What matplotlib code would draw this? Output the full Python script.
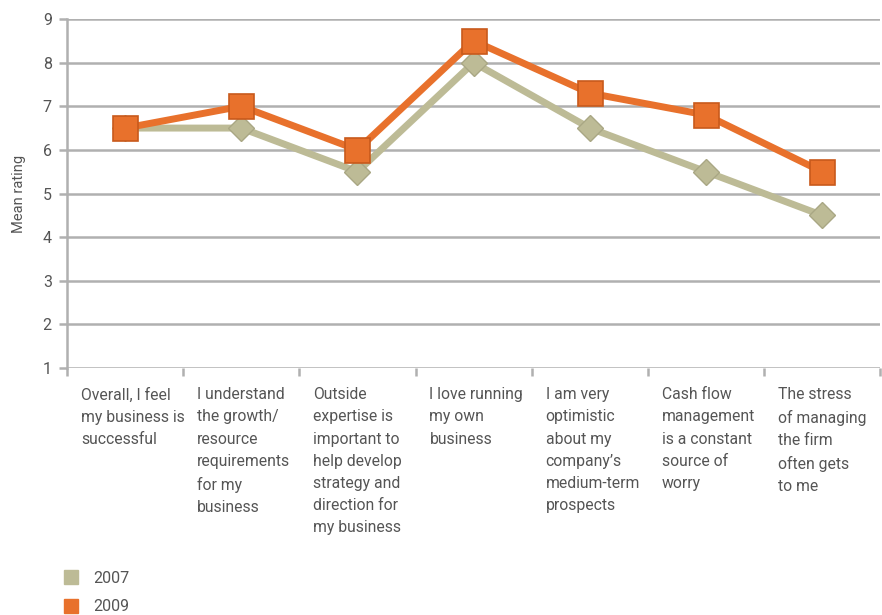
import numpy as np
import matplotlib; matplotlib.use("Agg"); import matplotlib.pyplot as plt
from matplotlib.lines import Line2D

statements = ["Overall, I feel\nmy business is\nsuccessful",
              "I understand\nthe growth/\nresource\nrequirements\nfor my\nbusiness",
              "Outside\nexpertise is\nimportant to\nhelp develop\nstrategy and\ndirection for\nmy business",
              "I love running\nmy own\nbusiness",
              "I am very\noptimistic\nabout my\ncompany\u2019s\nmedium-term\nprospects",
              "Cash flow\nmanagement\nis a constant\nsource of\nworry",
              "The stress\nof managing\nthe firm\noften gets\nto me"]
rating_2007 = [6.5, 6.5, 5.5, 8.0, 6.5, 5.5, 4.5]
rating_2009 = [6.5, 7.0, 6.0, 8.5, 7.3, 6.8, 5.5]

plt.rcParams['font.family'] = ["Roboto", "DejaVu Sans"]

C07, C09, GRID, TXT = "#bdbb96", "#e8712c", "#b0b0b0", "#555555"
x = np.arange(len(statements))

fig = plt.figure(figsize=(8.82, 6.15), dpi=100)
ax = fig.add_axes([0.076, 0.4016, 0.922, 0.5675])
ax.set_xlim(-0.5, 6.5); ax.set_ylim(1, 9)
ax.set_yticks(range(1, 10))
ax.grid(axis='y', color=GRID, lw=1.8); ax.set_axisbelow(True)
for s in ['top', 'right', 'bottom']: ax.spines[s].set_visible(False)
ax.spines['left'].set_color(GRID); ax.spines['left'].set_linewidth(1.8)
ax.tick_params(axis='y', length=6, color=GRID, width=1.8, labelsize=11.5, labelcolor=TXT, pad=5)
ax.set_xticks(np.arange(-0.5, 7.0, 1.0)); ax.set_xticklabels([])
ax.tick_params(axis='x', length=6, color=GRID, width=1.8, direction='out')
ax.set_ylabel("Mean rating", fontsize=10.5, color=TXT, labelpad=12)

ax.plot(x, rating_2007, color=C07, lw=5, marker='D', ms=13, mfc=C07, mec="#a9a784", mew=1, zorder=3)
ax.plot(x, rating_2009, color=C09, lw=5, marker='s', ms=18, mfc=C09, mec="#c85a1c", mew=1.2, zorder=4)

tr = ax.get_xaxis_transform()
for i, s in enumerate(statements):
    ax.text(i - 0.38, -0.055, s, transform=tr, ha='left', va='top', fontsize=11.3,
            color=TXT, linespacing=1.6)

handles = [Line2D([], [], ls='none', marker='s', ms=10, mfc=C07, mec=C07),
           Line2D([], [], ls='none', marker='s', ms=10, mfc=C09, mec=C09)]
fig.legend(handles, ["2007", "2009"], loc='lower left', bbox_to_anchor=(0.055, -0.022),
           frameon=False, fontsize=11.5, labelcolor=TXT, handlelength=1.0, handletextpad=0.9,
           labelspacing=0.85)
fig.savefig("out.png", dpi=100)
